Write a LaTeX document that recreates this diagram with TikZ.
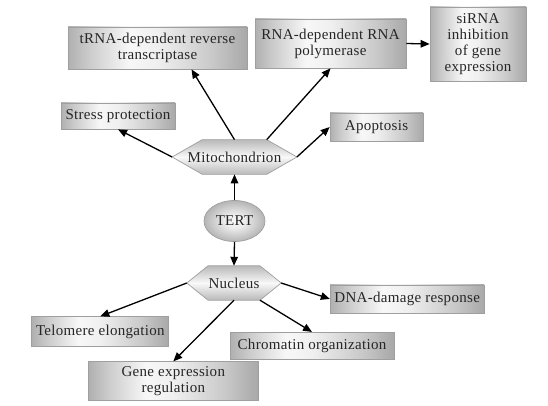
\documentclass[tikz,border=0pt]{standalone}
\usepackage{fontspec}
\setmainfont{Liberation Serif}[LetterSpace=2]
\usetikzlibrary{arrows.meta,shapes.geometric,backgrounds}
\pgfdeclarehorizontalshading{boxshade}{100bp}{color(0bp)=(gray!62); color(25bp)=(gray!62); color(31bp)=(gray!40); color(42bp)=(gray!6); color(50bp)=(gray!12); color(65bp)=(gray!42); color(75bp)=(gray!68); color(100bp)=(gray!68)}
\pgfdeclareradialshading{ovalshade}{\pgfpoint{0bp}{0bp}}{color(0bp)=(gray!6); color(8bp)=(gray!14); color(25bp)=(gray!58); color(50bp)=(gray!62)}
\begin{document}
\begin{tikzpicture}[x=1pt,y=-1pt,
  txt/.style={font=\fontsize{15}{16}\selectfont, align=center, inner sep=0pt, text=black!85},
  box/.style={txt, rectangle, draw=gray!75, line width=0.7pt, shading=boxshade},
  hexnode/.style={txt, rectangle, draw=none},
  hexfill/.style={draw=gray!75, line width=0.7pt, top color=gray!55, bottom color=gray!55, middle color=gray!5},
  ovalnode/.style={txt, ellipse, draw=gray!75, line width=0.7pt, shading=ovalshade},
  arr/.style={-{Triangle[length=9pt,width=7.5pt]}, line width=1.3pt, black}
]
\useasboundingbox (0,0) rectangle (548,406);

% boxes
\node[box, minimum width=179pt, minimum height=42pt] (trna) at (157.5,48) {tRNA-dependent reverse\\transcriptase};
\node[box, minimum width=151pt, minimum height=49pt] (rdrp) at (330.5,43.5) {RNA-dependent RNA\\polymerase};
\node[box, minimum width=96pt, minimum height=74pt] (sirna) at (478,44) {siRNA\\inhibition\\of gene\\expression};
\node[box, minimum width=114pt, minimum height=26pt] (stress) at (118,116) {Stress protection};
\node[box, minimum width=93pt, minimum height=28pt] (apop) at (376.5,127) {Apoptosis};
\node[box, minimum width=137pt, minimum height=30pt] (telo) at (100.3,331.7) {Telomere elongation};
\node[box, minimum width=170pt, minimum height=39pt] (gene) at (173.3,381.2) {Gene expression\\regulation};
\node[box, minimum width=164pt, minimum height=27pt] (chrom) at (312,345.8) {Chromatin organization};
\node[box, minimum width=154pt, minimum height=28pt] (dna) at (407.2,298.9) {DNA-damage response};

% hexagon nodes
\node[hexnode, minimum width=124.4pt, minimum height=34.3pt] (mito) at (234.5,157) {Mitochondrion};
\node[hexnode, minimum width=94pt, minimum height=34pt] (nuc) at (234,283) {Nucleus};
\node[ovalnode, minimum width=61pt, minimum height=41pt] (tert) at (234.5,221) {TERT};

\begin{scope}[on background layer]
\fill[white] (0,0) rectangle (548,406);
\path[hexfill] (mito.west) -- ([xshift=30.2pt]mito.north west) -- ([xshift=-30.2pt]mito.north east)
  -- (mito.east) -- ([xshift=-30.2pt]mito.south east) -- ([xshift=30.2pt]mito.south west) -- cycle;
\path[hexfill] (nuc.west) -- ([xshift=21.2pt]nuc.north west) -- ([xshift=-21.2pt]nuc.north east)
  -- (nuc.east) -- ([xshift=-21.2pt]nuc.south east) -- ([xshift=21.2pt]nuc.south west) -- cycle;
\end{scope}

% connectors
\draw[arr] (tert.north) -- (mito.south);
\draw[arr] (tert.south) -- (nuc.north);
\draw[arr] (mito.west) -- (stress.south);
\draw[arr] (mito.north) -- ([xshift=34pt]trna.south);
\draw[arr] ([xshift=-30.2pt]mito.north east) -- (rdrp.south);
\draw[arr] (mito.east) -- (apop.west);
\draw[arr] (rdrp.east) -- (sirna.west);
\draw[arr] (nuc.west) -- (telo.north);
\draw[arr] (nuc.south) -- (gene.north);
\draw[arr] ([xshift=-21.2pt]nuc.south east) -- (chrom.north);
\draw[arr] (nuc.east) -- (dna.west);
\end{tikzpicture}
\end{document}
